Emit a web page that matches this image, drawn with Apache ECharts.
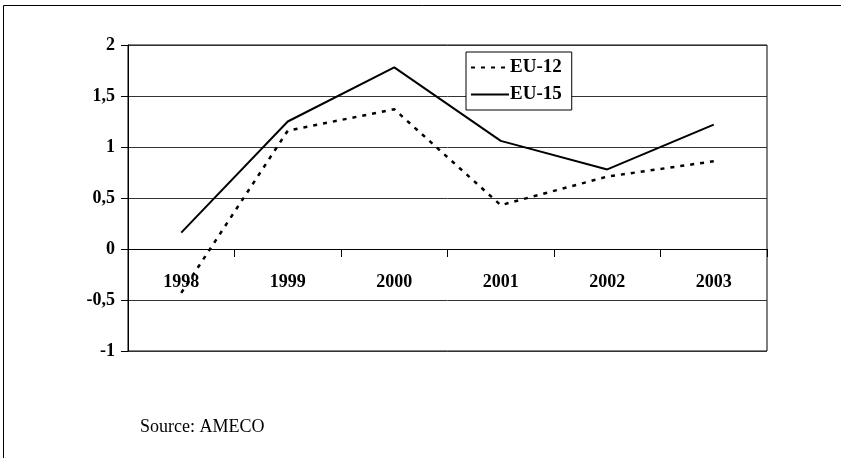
<!DOCTYPE html>
<html>
<head>
<meta charset="utf-8">
<script src="https://cdn.jsdelivr.net/npm/echarts@6/dist/echarts.min.js"></script>
<style>
  html, body { margin: 0; padding: 0; background: #fff; }
  #chart { width: 841px; height: 458px; }
</style>
</head>
<body>
<div id="chart"></div>
<script>
// Years on the category axis
const years = ['1998', '1999', '2000', '2001', '2002', '2003'];
// Series values
const eu12 = [-0.43, 1.16, 1.37, 0.43, 0.71, 0.86];
const eu15 = [0.16, 1.25, 1.78, 1.06, 0.78, 1.22];
// Y axis range
const yMin = -1;
const yMax = 2;
const yStep = 0.5;

const serif = '"Liberation Serif", "Times New Roman", serif';

const gridTop = 45, gridBottom = 107, chartH = 458;
const plotH = chartH - gridTop - gridBottom;
// lift the category axis from the grid bottom up to the zero line
const zeroOffset = -plotH * (0 - yMin) / (yMax - yMin);

const chart = echarts.init(document.getElementById('chart'), null, { renderer: 'canvas' });

chart.setOption({
  animation: false,
  backgroundColor: '#fff',
  textStyle: { fontFamily: serif },
  grid: { left: 128, right: 74, top: gridTop, bottom: gridBottom, show: true, borderColor: '#000', borderWidth: 1, containLabel: false },
  graphic: [
    {
      type: 'rect',
      shape: { x: 3.5, y: 5.5, width: 900, height: 600 },
      style: { fill: 'none', stroke: '#000', lineWidth: 1 },
      silent: true, z: 0
    },
    {
      type: 'text',
      left: 140, top: 418,
      style: { text: 'Source: AMECO', fill: '#000', font: '18px ' + serif }
    }
  ],
  legend: {
    orient: 'vertical',
    left: 466, top: 52,
    padding: [6, 10, 6, 4],
    itemGap: 8,
    itemWidth: 38,
    itemHeight: 14,
    borderColor: '#000',
    borderWidth: 1,
    backgroundColor: '#fff',
    itemStyle: { opacity: 0 },
    textStyle: { fontFamily: serif, fontWeight: 'bold', fontSize: 19, color: '#000', padding: [0, 0, 0, -4] },
    data: ['EU-12', 'EU-15']
  },
  xAxis: {
    type: 'category',
    data: years,
    boundaryGap: true,
    position: 'bottom',
    offset: zeroOffset,
    axisLine: { onZero: false, lineStyle: { color: '#000', width: 1 } },
    axisTick: { show: true, length: 8, lineStyle: { color: '#000' } },
    axisLabel: { margin: 24, fontFamily: serif, fontWeight: 'bold', fontSize: 18, color: '#000' },
    splitLine: { show: false }
  },
  yAxis: {
    type: 'value',
    min: yMin, max: yMax, interval: yStep,
    axisLine: { show: true, lineStyle: { color: '#000' } },
    axisTick: { show: true, length: 7, lineStyle: { color: '#000' } },
    axisLabel: {
      margin: 13, fontFamily: serif, fontWeight: 'bold', fontSize: 18, color: '#000',
      formatter: v => String(v).replace('.', ',')
    },
    splitLine: { show: true, lineStyle: { color: '#333', width: 1 } }
  },
  series: [
    {
      name: 'EU-12', type: 'line', data: eu12, symbol: 'none',
      lineStyle: { color: '#000', width: 2.5, type: [4, 6] },
      itemStyle: { color: '#000' }, z: 2
    },
    {
      name: 'EU-15', type: 'line', data: eu15, symbol: 'none',
      lineStyle: { color: '#000', width: 2 },
      itemStyle: { color: '#000' }, z: 2
    }
  ]
});
</script>
</body>
</html>
